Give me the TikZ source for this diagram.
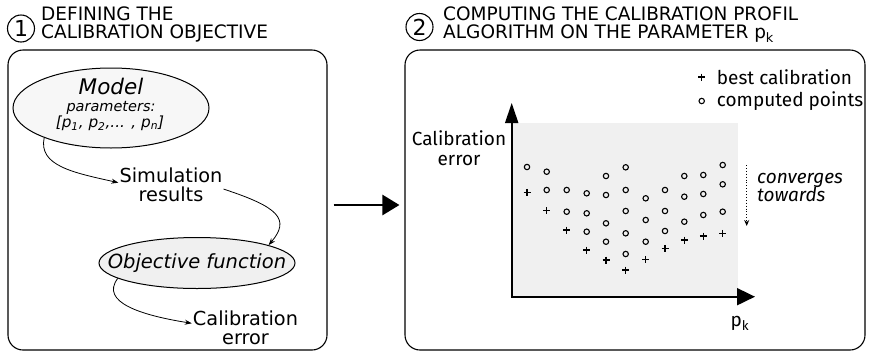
\documentclass[tikz,border=0pt]{standalone}
\usepackage{fontspec}
\setmainfont{DejaVu Sans}
\newfontfamily\fira{Fira Sans}
\usetikzlibrary{shapes.geometric,arrows.meta}
\definecolor{paleGray}{HTML}{F0F0F0}
\definecolor{modelFill}{HTML}{F7F7F7}
\begin{document}
\begin{tikzpicture}[x=1pt,y=-1pt,
  panel/.style={draw, rounded corners=15pt, line width=1.1pt, inner sep=0pt},
  numcircle/.style={circle, draw, line width=1.1pt, minimum size=27pt, inner sep=0pt,
    font=\fontsize{22}{22}\selectfont},
  titletext/.style={anchor=base west, inner sep=0pt, font=\fontsize{18.5}{18.5}\selectfont},
  ell/.style={ellipse, draw, line width=1pt, inner sep=0pt},
  lefttext/.style={align=center, inner sep=1pt, font=\fontsize{19.3}{19}\selectfont},
  righttext/.style={inner sep=0pt, font=\fira\fontsize{19}{20}\selectfont},
  flow/.style={line width=0.8pt, -{Stealth[length=7pt,width=5pt]}},
  bigarrow/.style={line width=2.6pt, -{Triangle[length=17pt,width=20pt]}},
  axis/.style={line width=1.9pt},
  marker/.style={line width=1.1pt},
]
\useasboundingbox (0,0) rectangle (870,354);

% the two panels
\node[panel, minimum width=319pt, minimum height=300pt] (lp) at (167.5,200) {};
\node[panel, minimum width=460pt, minimum height=300pt] (rp) at (635,200) {};

% headings
\node[numcircle] (n1) at (21,28.5) {1};
\node[titletext] (t1a) at (41,20.7) {DEFINING THE};
\node[titletext] (t1b) at (41,38.3) {CALIBRATION OBJECTIVE};
\node[numcircle] (n2) at (419.5,27) {2};
\node[titletext] (t2a) at (443,20.7) {COMPUTING THE CALIBRATION PROFIL};
\node[titletext] (t2b) at (443,38.3) {ALGORITHM ON THE PARAMETER p\textsubscript{k}};

% step 1: model, simulation, objective
\node[ell, fill=modelFill, minimum width=196pt, minimum height=80pt] (model) at (111,108) {};
\node[inner sep=0pt, font=\itshape\fontsize{21.5}{22}\selectfont] (mname) at (111,86.7) {Model};
\node[inner sep=0pt, font=\itshape\fontsize{14.5}{15}\selectfont] (mpar) at (111,107.7) {parameters:};
\node[inner sep=0pt, font=\itshape\fontsize{15.3}{15}\selectfont] (mlist) at (110,123)
  {[p\textsubscript{1}, p\textsubscript{2},... , p\textsubscript{n}]};

\node[lefttext] (sim) at (171,184.5) {Simulation\\results};
\node[ell, fill=paleGray, minimum width=196pt, minimum height=51pt] (obj) at (197,263) {};
\node[inner sep=0pt, font=\itshape\fontsize{19.5}{19}\selectfont] (objtext) at (obj.center) {Objective function};
\node[lefttext] (cal) at (245.5,328) {Calibration\\error};

\draw[flow] (model.204) .. controls +(-6,28) and +(-45,-10) .. (sim.178);
\draw[flow] (sim.-5) .. controls +(55,18) and +(22,-26) .. (obj.14);
\draw[flow] (obj.191) .. controls +(-18,24) and +(-50,-8) .. (cal.175);

% transition between the two steps
\draw[bigarrow] ([xshift=6pt,yshift=-5pt]lp.east) -- ([xshift=-5pt,yshift=-5pt]rp.west);

% step 2: profile plot
\fill[paleGray] (511.7,123.3) rectangle (738,296.7);
\coordinate (O) at (511.7,296.7);
\coordinate (ytip) at (511.7,103);
\coordinate (xtip) at (755,296.7);
\draw[axis, -{Triangle[length=20pt,width=13pt]}] (O) -- (ytip);
\draw[axis, -{Triangle[length=18pt,width=17pt]}] ([xshift=-0.95pt]O) -- (xtip);

\node[righttext, align=center] (ylab) at (459,148) {Calibration\\error};
\node[righttext] (xlab) at (740,323) {p\textsubscript{k}};

% computed points
\foreach \px/\py in {527/167,
  546.7/171.7, 546.7/190,
  566.7/190, 566.7/211.7,
  586.7/193.3, 586.7/213.3, 586.7/231.7,
  606/176, 606/195, 606/223.3, 606/241.7,
  625.7/167.3, 625.7/190, 625.7/211, 625.7/233.3, 625.7/254,
  645.7/198.3, 645.7/220, 645.7/241.7,
  665/190, 665/211, 665/231,
  684.3/176, 684.3/196.7, 684.3/221.7,
  703.3/175, 703.3/194, 703.3/215,
  722.7/165, 722.7/184.3, 722.7/211.7}
  \draw[marker] (\px,\py) circle (2.7);
% best calibration of each profile point
\foreach \px/\py in {527/192.3, 546.7/210.7, 566.7/230, 586.7/250, 606/260,
  625.7/270, 645.7/259.3, 665/248.3, 684.3/240, 703.3/236, 722.7/233.3}
  \draw[marker] (\px-3.5,\py) -- (\px+3.5,\py) (\px,\py-3.5) -- (\px,\py+3.5);

% legend
\draw[marker] (698.2,77) -- (705.2,77) (701.7,73.5) -- (701.7,80.5);
\node[righttext, anchor=west] (lbest) at (716.7,77) {best calibration};
\draw[marker] (701.7,101) circle (2.7);
\node[righttext, anchor=west] (lcomp) at (716.7,101) {computed points};

% convergence hint
\coordinate (dtop) at (746.7,165);
\coordinate (dbot) at (746.7,226);
\draw[dotted, line width=0.9pt, -{Stealth[length=6pt,width=5pt]}] (dtop) -- (dbot);
\node[righttext, anchor=west, align=left, font=\fira\itshape\fontsize{19}{18.5}\selectfont]
  (conv) at (757,187.5) {converges\\towards};
\end{tikzpicture}
\end{document}
